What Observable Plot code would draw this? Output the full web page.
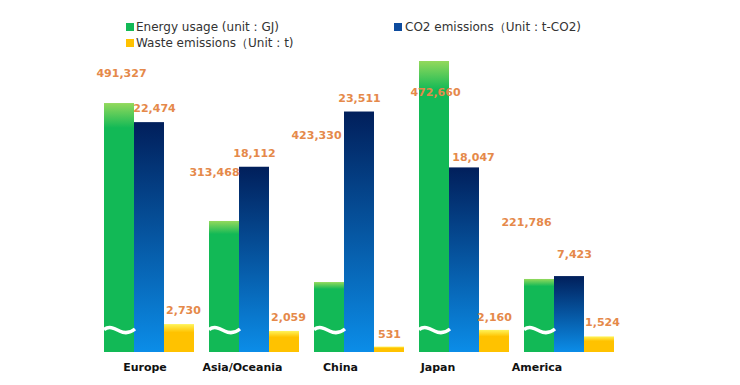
<!DOCTYPE html>
<html>
<head>
<meta charset="utf-8">
<script src="https://cdn.jsdelivr.net/npm/d3@7"></script>
<script src="https://cdn.jsdelivr.net/npm/@observablehq/plot@0.6"></script>
<style>
  html, body { margin: 0; padding: 0; background: #fff; }
  #wrap { position: relative; width: 740px; height: 385px; font-family: "DejaVu Sans", Verdana, sans-serif; }
  #legend { position: relative; width: 740px; height: 52px; font-size: 12px; color: #333; }
  #legend .sw { position: absolute; width: 8px; height: 8px; }
  #legend .tx { position: absolute; line-height: 14px; white-space: nowrap; }
</style>
</head>
<body>
<svg width="0" height="0" style="position:absolute">
  <defs>
    <linearGradient id="g-energy" x1="0" y1="0" x2="0" y2="1">
      <stop offset="0" stop-color="#93d95c"/>
      <stop offset="0.1" stop-color="#12b956"/>
      <stop offset="1" stop-color="#12b956"/>
    </linearGradient>
    <linearGradient id="g-co2" x1="0" y1="0" x2="0" y2="1">
      <stop offset="0" stop-color="#011f5b"/>
      <stop offset="1" stop-color="#0b8de8"/>
    </linearGradient>
    <linearGradient id="g-waste" x1="0" y1="0" x2="0" y2="1">
      <stop offset="0" stop-color="#fff45a"/>
      <stop offset="0.3" stop-color="#ffc200"/>
      <stop offset="1" stop-color="#ffc200"/>
    </linearGradient>
  </defs>
</svg>
<div id="wrap">
  <div id="legend">
    <div class="sw" style="left:126px;top:23px;background:#12b956"></div>
    <div class="tx" style="left:136px;top:20px">Energy usage (unit : GJ)</div>
    <div class="sw" style="left:394px;top:23px;background:#0d4b9e"></div>
    <div class="tx" style="left:405px;top:20px">CO2 emissions（Unit : t-CO2)</div>
    <div class="sw" style="left:126px;top:39px;background:#ffc200"></div>
    <div class="tx" style="left:136px;top:36px">Waste emissions（Unit : t)</div>
  </div>
  <div id="chart"></div>
</div>
<script>
// ---- data ----
const regions = ["Europe", "Asia/Oceania", "China", "Japan", "America"];
const seriesKeys = ["energy", "co2", "waste"];
// Energy usage values (GJ) as labelled
const energyUsage = [491327, 313468, 423330, 472660, 221786];
// Energy bar lengths as drawn on the broken axis (in axis units)
const energyBarDrawn = [24340, 12810, 6840, 28450, 7140];
// CO2 emissions (t-CO2)
const co2Emissions = [22474, 18112, 23511, 18047, 7423];
// Waste emissions (t)
const wasteEmissions = [2730, 2059, 531, 2160, 1524];

const fmt = d3.format(",");
const rows = [];
regions.forEach((r, i) => {
  rows.push({region: r, series: "energy", bar: energyBarDrawn[i], label: fmt(energyUsage[i])});
  rows.push({region: r, series: "co2", bar: co2Emissions[i], label: fmt(co2Emissions[i])});
  rows.push({region: r, series: "waste", bar: wasteEmissions[i], label: fmt(wasteEmissions[i])});
});

// label placement tweaks (px) to follow the reference layout
const labelOffsets = {
  energy: [[2, -30], [-10, -49], [-13, -147], [1, 31], [-13, -57]],
  co2:    [[5, -14], [0, -14], [0, -14], [9, -10], [5, -22]],
  waste:  [[4, -14], [4, -14], [0, -13], [0, -13], [3, -14]]
};
const regionLabelDx = [-4.5, -12, -19, -26.5, -32.5];

const orange = "#e5894a";
const wave = {
  draw(ctx) {
    ctx.moveTo(-15.5, -1);
    ctx.bezierCurveTo(-10, -5, -5, -2, 0, 0.5);
    ctx.bezierCurveTo(5, 3, 10, 3, 15.5, -1.5);
  }
};

const marks = [];
seriesKeys.forEach(s => {
  marks.push(Plot.barY(rows, {
    filter: d => d.series === s,
    x: "series", y: "bar",
    fill: `url(#g-${s})`
  }));
});
marks.push(Plot.dot(rows, {
  filter: d => d.series === "energy",
  x: "series", y: () => 2150,
  symbol: wave, r: 10,
  fill: "none", stroke: "white", strokeWidth: 3.5
}));
rows.forEach(row => {
  const i = regions.indexOf(row.region);
  const [dx, dy] = labelOffsets[row.series][i];
  marks.push(Plot.text(rows, {
    filter: d => d === row,
    x: "series", y: "bar", text: "label",
    dx, dy, fill: orange, fontWeight: "bold", fontSize: 11
  }));
});
regions.forEach((r, i) => {
  marks.push(Plot.text(rows, {
    filter: d => d.region === r && d.series === "co2",
    x: "series", text: "region", frameAnchor: "bottom",
    dx: regionLabelDx[i], dy: 18,
    fill: "#111", fontWeight: "bold", fontSize: 11
  }));
});

const chart = Plot.plot({
  width: 740,
  height: 333,
  marginLeft: 104,
  marginRight: 126,
  marginTop: 0,
  marginBottom: 33,
  style: {fontFamily: "'DejaVu Sans', Verdana, sans-serif", background: "white", overflow: "visible"},
  facet: {data: rows, x: "region"},
  fx: {domain: regions, paddingInner: 15 / 105, paddingOuter: 0, round: false, axis: null, label: null},
  x: {domain: seriesKeys, padding: 0, round: false, axis: null, label: null},
  y: {domain: [0, 29330], axis: null},
  marks
});
document.getElementById("chart").appendChild(chart);
</script>
</body>
</html>
